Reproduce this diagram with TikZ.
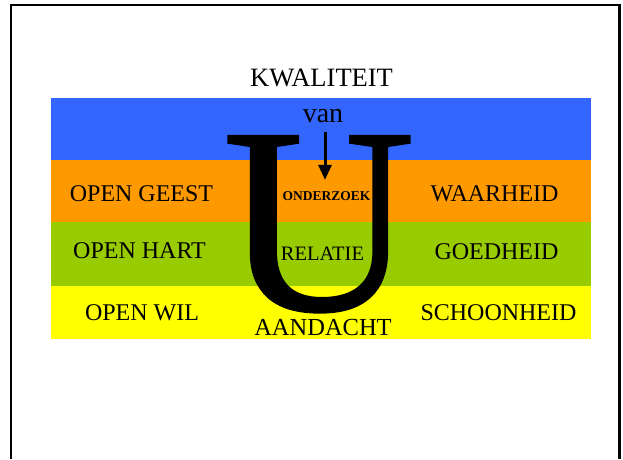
\documentclass[tikz,border=0pt]{standalone}
\usepackage{fontspec}
\setmainfont{Liberation Serif}
\newfontfamily\grootu[FakeBold=0.8]{Liberation Serif}
\usetikzlibrary{arrows.meta}
\definecolor{bandblauw}{HTML}{3366FF}
\definecolor{bandoranje}{HTML}{FF9900}
\definecolor{bandgroen}{HTML}{99CC00}
\definecolor{bandgeel}{HTML}{FFFF00}
\begin{document}
\begin{tikzpicture}[x=1pt,y=-1pt,
        woord/.style={anchor=base,inner sep=0pt,font=\fontsize{24}{24}\selectfont},
        pijl/.style={line width=3pt,-{Triangle[width=13pt,length=15pt]}}]
            \useasboundingbox (0,0) rectangle (623,459);
            \draw[line width=2.5pt] (11,459) -- (11,5) -- (619.5,5) -- (619.5,459);
            \fill[bandblauw] (51,98) rectangle (591,160);
            \fill[bandoranje] (51,160) rectangle (591,222);
            \fill[bandgroen] (51,222) rectangle (591,286);
            \fill[bandgeel] (51,286) rectangle (591,338.5);
            \node[woord,font=\fontsize{26.5}{26.5}\selectfont] (kwaliteit) at (321.5,86.5) {KWALITEIT};
            \node[woord,font=\fontsize{28}{28}\selectfont] (van) at (323,122) {van};
            \node[woord,font=\grootu\fontsize{266}{266}\selectfont] (u) at (319,310) {U};
            \node[woord] (geest) at (141.5,201) {OPEN GEEST};
            \node[woord] (hart) at (139.5,258) {OPEN HART};
            \node[woord] (wil) at (142,320.5) {OPEN WIL};
            \node[woord] (waarheid) at (494.5,201) {WAARHEID};
            \node[woord] (goedheid) at (496.5,259) {GOEDHEID};
            \node[woord] (schoonheid) at (498.5,320.5) {SCHOONHEID};
            \node[woord,font=\fontsize{13.5}{13.5}\selectfont\bfseries] (onderzoek) at (326.5,200) {ONDERZOEK};
            \node[woord,font=\fontsize{20.5}{20.5}\selectfont] (relatie) at (322.5,260) {RELATIE};
            \node[woord,font=\fontsize{24.5}{24.5}\selectfont] (aandacht) at (323,335.5) {AANDACHT};
            \draw[pijl,shorten <=10pt,shorten >=11pt] ([xshift=2pt]van.south) -- ([xshift=2pt]van.south |- onderzoek.north);
        \end{tikzpicture}
\end{document}
